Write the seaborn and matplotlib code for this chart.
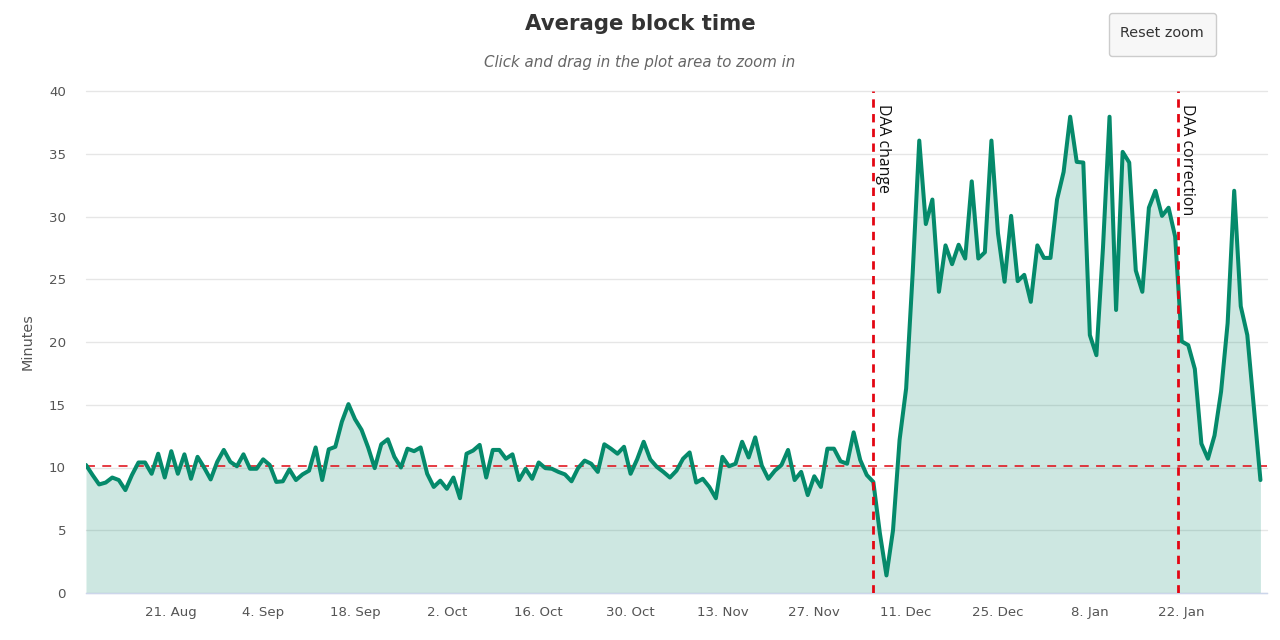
import numpy as np
import pandas as pd
import matplotlib
matplotlib.use("Agg")
import matplotlib.pyplot as plt
from matplotlib.patches import FancyBboxPatch
from matplotlib.transforms import Affine2D
import seaborn as sns

start_date = "2017-08-08"
block_minutes = [
 10.2, 9.4, 8.65, 8.8, 9.2, 9.0, 8.2, 9.4, 10.4, 10.4,
 9.5, 11.1, 9.2, 11.3, 9.5, 11.05, 9.1, 10.85, 10.0, 9.05,
 10.45, 11.4, 10.45, 10.1, 11.05, 9.9, 9.9, 10.65, 10.2, 8.85,
 8.9, 9.85, 9.0, 9.45, 9.75, 11.6, 9.0, 11.45, 11.65, 13.65,
 15.05, 13.85, 13.0, 11.6, 9.95, 11.85, 12.25, 10.85, 10.0, 11.5,
 11.3, 11.6, 9.5, 8.45, 8.95, 8.3, 9.2, 7.55, 11.1, 11.35,
 11.8, 9.2, 11.4, 11.4, 10.7, 11.05, 9.0, 9.9, 9.1, 10.4,
 9.95, 9.9, 9.65, 9.45, 8.9, 9.95, 10.55, 10.3, 9.65, 11.85,
 11.5, 11.1, 11.65, 9.5, 10.65, 12.05, 10.65, 10.05, 9.65, 9.2,
 9.75, 10.7, 11.2, 8.8, 9.1, 8.45, 7.55, 10.85, 10.1, 10.3,
 12.05, 10.8, 12.4, 10.15, 9.1, 9.75, 10.2, 11.4, 9.0, 9.65,
 7.8, 9.3, 8.45, 11.5, 11.5, 10.5, 10.3, 12.8, 10.6, 9.4,
 8.85, 4.75, 1.4, 5.0, 12.2, 16.3, 25.5, 36.05, 29.4, 31.35,
 24.0, 27.7, 26.2, 27.75, 26.65, 32.8, 26.65, 27.15, 36.05, 28.65,
 24.8, 30.05, 24.85, 25.35, 23.2, 27.7, 26.7, 26.7, 31.35, 33.55,
 37.95, 34.35, 34.3, 20.55, 18.95, 27.5, 37.95, 22.55, 35.15, 34.3,
 25.7, 24.0, 30.7, 32.05, 30.05, 30.7, 28.4, 20.05, 19.75, 17.85,
 11.9, 10.7, 12.55, 16.05, 21.5, 32.05, 22.85, 20.55, 14.8, 9.0,
]
y_ticks = [0, 5, 10, 15, 20, 25, 30, 35, 40]
tick_dates = ["2017-08-21", "2017-09-04", "2017-09-18", "2017-10-02", "2017-10-16",
              "2017-10-30", "2017-11-13", "2017-11-27", "2017-12-11", "2017-12-25",
              "2018-01-08", "2018-01-22"]
tick_labels = ["21. Aug", "4. Sep", "18. Sep", "2. Oct", "16. Oct", "30. Oct",
               "13. Nov", "27. Nov", "11. Dec", "25. Dec", "8. Jan", "22. Jan"]
target_minutes = 10.1
daa_events = [("2017-12-06 00:00", "DAA change"), ("2018-01-21 09:00", "DAA correction")]

GREEN = "#058a6b"
RED = "#e30613"
TXT = "#555555"

sns.set_theme(style="white")
plt.rcParams["font.family"] = ["DejaVu Sans"]

dates = pd.date_range(start_date, periods=len(block_minutes), freq="D")
df = pd.DataFrame({"date": dates, "minutes": block_minutes})

fig = plt.figure(figsize=(12.8, 6.4), dpi=100, facecolor="white")
ax = fig.add_axes([86 / 1280, 1 - 593 / 640, (1267 - 86) / 1280, (593 - 91) / 640])

ax.set_axisbelow(True)
ax.yaxis.grid(True, color="#e6e6e6", lw=1.0)
ax.xaxis.grid(False)
ax.fill_between(df["date"], df["minutes"], 0, color=GREEN, alpha=0.2, lw=0, zorder=1)
ax.axhline(target_minutes, color="#e0101a", lw=1.15, dashes=(5.6, 4.6), zorder=3)
sns.lineplot(data=df, x="date", y="minutes", ax=ax, color=GREEN, lw=2.9,
             zorder=4, errorbar=None, solid_joinstyle="round", solid_capstyle="round")

for when, label in daa_events:
    ts = pd.Timestamp(when)
    ax.axvline(ts, color=RED, lw=2.0, dashes=(3.0, 2.3), zorder=5)
    ax.text(ts + pd.Timedelta(hours=6), 38.98, label, rotation=270, va="top", ha="left",
            fontsize=11.4, color="#111111", zorder=6, family="Open Sans")

ax.set_xlim(pd.Timestamp(start_date), pd.Timestamp(start_date) + pd.Timedelta(days=180))
ax.set_ylim(0, 40)
ax.set_yticks(y_ticks)
ax.set_xticks(pd.to_datetime(tick_dates))
ax.set_xticklabels(tick_labels)
ax.set_xlabel("")
ax.set_ylabel("Minutes", fontsize=10.4, color=TXT)
ax.yaxis.set_label_coords((35 - 86) / 1181, 0.5)
ax.tick_params(axis="x", length=7.2, width=1.0, color="#ccd6eb", labelsize=9.6,
               labelcolor=TXT, pad=2.3)
ax.tick_params(axis="y", length=0, labelsize=9.6, labelcolor=TXT, pad=14.4)
for line in ax.get_ygridlines():
    line.set_clip_on(False)
for side in ["top", "right", "left"]:
    ax.spines[side].set_visible(False)
ax.spines["bottom"].set_color("#ccd6eb")
ax.spines["bottom"].set_linewidth(1.0)

fig.text(640 / 1280, 1 - 24 / 640, "Average block time", ha="center", va="center",
         fontsize=15.3, fontweight="bold", color="#333333")
fig.text(640 / 1280, 1 - 62 / 640, "Click and drag in the plot area to zoom in", ha="center",
         va="center", fontsize=10.8, style="italic", color="#666666")

btn = FancyBboxPatch((1109.5, 13.5), 107, 43, boxstyle="round,pad=0,rounding_size=3",
                     fc="#f7f7f7", ec="#cccccc", lw=1.0)
btn.set_transform(Affine2D().scale(1, -1).translate(0, 640))
fig.add_artist(btn)
fig.text(1161.5 / 1280, 1 - 33 / 640, "Reset zoom", ha="center", va="center",
         fontsize=10.4, color="#333333")

fig.savefig("out.png", dpi=100)
